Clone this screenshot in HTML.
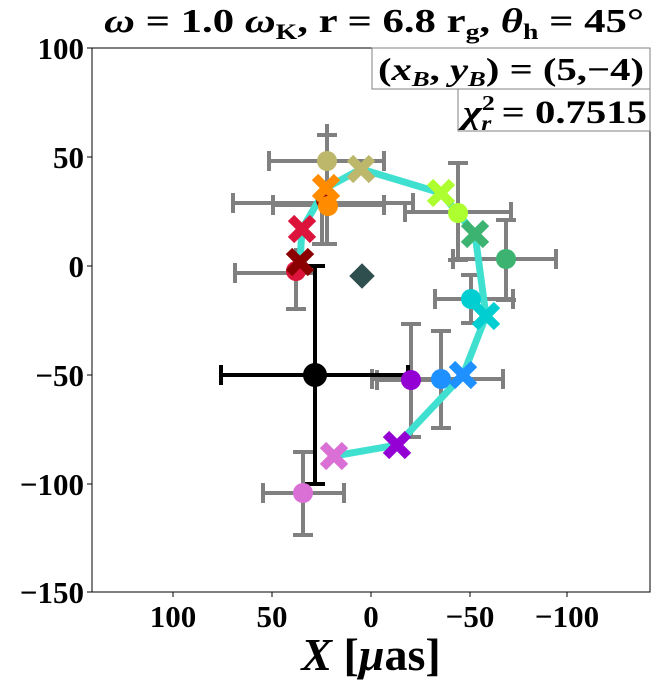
<!DOCTYPE html>
<html><head><meta charset="utf-8"><style>body{margin:0;background:#fff}svg{display:block}text{font-family:"Liberation Serif",serif;font-weight:bold}</style></head><body>
<svg width="656" height="682" viewBox="0 0 656 682" xmlns="http://www.w3.org/2000/svg">
<rect width="656" height="682" fill="#fff"/>
<text x="374" y="32" font-size="34" text-anchor="middle" textLength="540" lengthAdjust="spacingAndGlyphs"><tspan font-style="italic">ω</tspan> = 1.0 <tspan font-style="italic">ω</tspan><tspan font-size="22" dy="7">K</tspan><tspan dy="-7">, r = 6.8 r</tspan><tspan font-size="22" dy="7">g</tspan><tspan dy="-7">, </tspan><tspan font-style="italic">θ</tspan><tspan font-size="22" dy="7">h</tspan><tspan dy="-7"> = 45°</tspan></text>
<g stroke="#808080" stroke-width="4" fill="none">
<path d="M269 161H384M269 151V171M384 151V171M327 161V135M317 135H337"/>
<path d="M233 203H413M233 193V213M413 193V213M327 200V124M327 200V244M317 244H337"/>
<path d="M273 205H384M273 195V215M384 195V215M322 205V244M312 244H332"/>
<path d="M235 273H316M235 263V283M296 271V248M296 271V309M286 309H306"/>
<path d="M405 212H511M405 202V222M511 202V222M458 213V163M448 163H468M458 213V260M448 260H468"/>
<path d="M453 259H556M453 249V269M556 249V269M506 259V220M496 220H516M506 259V300M496 300H516"/>
<path d="M435 299H513M435 289V309M513 289V309M471 299V275M461 275H481M471 299V323M461 323H481"/>
<path d="M372 379H503M372 369V389M503 369V389M441 379V331M431 331H451M441 379V428M431 428H451"/>
<path d="M377 380H445M377 370V390M411 380V324M401 324H421M411 380V437M401 437H421"/>
<path d="M263 493H344M263 483V503M344 483V503M303 493V452M293 452H313M303 493V535M293 535H313"/>
</g>
<g stroke="#000" stroke-width="4" fill="none"><path d="M221 375H408M221 365V385M408 365V385M315 375V266M305 266H325M315 375V484M305 484H325"/></g>
<polyline points="334,456 397,445 463,375 486,316 475,234 441,193 361,169 326,188 302,229 300,262" fill="none" stroke="#40e0d0" stroke-width="7"/>
<g>
<circle cx="327" cy="161" r="10" fill="#bdb76b"/>
<circle cx="326" cy="200" r="10" fill="#8b0000"/>
<circle cx="328" cy="206" r="10" fill="#ff8c00"/>
<circle cx="296" cy="271" r="10" fill="#dc143c"/>
<circle cx="458" cy="213" r="10" fill="#adff2f"/>
<circle cx="506" cy="259" r="10" fill="#3cb371"/>
<circle cx="471" cy="299" r="10" fill="#00ced1"/>
<circle cx="441" cy="379" r="10" fill="#1e90ff"/>
<circle cx="411" cy="380" r="10" fill="#9400d3"/>
<circle cx="303" cy="493" r="10" fill="#da70d6"/>
<circle cx="315" cy="375" r="12" fill="#000"/>
<rect x="353" y="267" width="18" height="18" fill="#2f4f4f" transform="rotate(45 362 276)"/>
</g>
<g stroke-width="9" stroke-linecap="butt">
<path d="M323 445L345 467M345 445L323 467" stroke="#da70d6"/>
<path d="M386 434L408 456M408 434L386 456" stroke="#9400d3"/>
<path d="M452 364L474 386M474 364L452 386" stroke="#1e90ff"/>
<path d="M475 305L497 327M497 305L475 327" stroke="#00ced1"/>
<path d="M464 223L486 245M486 223L464 245" stroke="#3cb371"/>
<path d="M430 182L452 204M452 182L430 204" stroke="#adff2f"/>
<path d="M350 158L372 180M372 158L350 180" stroke="#bdb76b"/>
<path d="M315 177L337 199M337 177L315 199" stroke="#ff8c00"/>
<path d="M291 218L313 240M313 218L291 240" stroke="#dc143c"/>
<path d="M289 251L311 273M311 251L289 273" stroke="#8b0000"/>
</g>
<rect x="92" y="48" width="558" height="544" fill="none" stroke="#000" stroke-width="1"/>
<g stroke="#000" stroke-width="1">
<path d="M92 48h-5M92 157h-5M92 266h-5M92 375h-5M92 484h-5M92 592h-5"/>
<path d="M173 592v5M272 592v5M371 592v5M470 592v5M567 592v5"/>
</g>
<g font-size="31" text-anchor="end">
<text x="84" y="59">100</text><text x="84" y="168">50</text><text x="84" y="277">0</text>
<text x="84" y="386">−50</text><text x="84" y="495">−100</text><text x="84" y="603">−150</text>
</g>
<g font-size="31" text-anchor="middle">
<text x="173" y="627">100</text><text x="272" y="627">50</text><text x="371" y="627">0</text>
<text x="470" y="627">−50</text><text x="567" y="627">−100</text>
</g>
<text x="371" y="670" font-size="46" text-anchor="middle"><tspan font-style="italic">X</tspan> [<tspan font-style="italic">μ</tspan>as]</text>
<rect x="372" y="48" width="278" height="41" fill="#fff" stroke="#808080" stroke-width="1"/>
<text x="511" y="80" font-size="32" text-anchor="middle" textLength="266" lengthAdjust="spacingAndGlyphs">(<tspan font-style="italic">x</tspan><tspan font-size="21" dy="6" font-style="italic">B</tspan><tspan dy="-6">, </tspan><tspan font-style="italic">y</tspan><tspan font-size="21" dy="6" font-style="italic">B</tspan><tspan dy="-6">) = (5,−4)</tspan></text>
<rect x="458" y="89" width="192" height="42" fill="#fff" stroke="#808080" stroke-width="1"/>
<text x="555" y="123" font-size="33" text-anchor="middle" textLength="184" lengthAdjust="spacingAndGlyphs"><tspan font-style="italic">χ</tspan><tspan font-size="21" dy="-13">2</tspan><tspan font-size="21" dy="20" dx="-11" font-style="italic">r</tspan><tspan dy="-7"> = 0.7515</tspan></text>
</svg>
</body></html>
